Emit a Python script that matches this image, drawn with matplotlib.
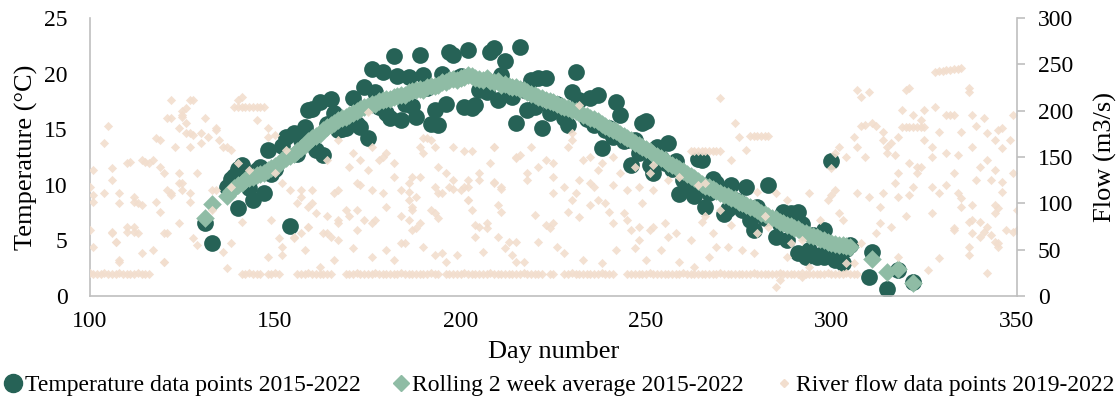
import matplotlib

matplotlib.use("Agg")
import matplotlib.pyplot as plt  # noqa: E402
from matplotlib.lines import Line2D  # noqa: E402

# temperature data points 2015-2022 (day, degC)
temp_day = [131, 133, 137, 138, 139, 140, 140, 141, 142, 143, 144, 145, 146, 147, 148, 149, 150,
            152, 153, 154, 155, 156, 157, 158, 159, 160, 161, 162, 163, 164, 165, 166, 167, 168, 169,
            170, 171, 172, 173, 174, 175, 176, 177, 178, 179, 180, 181, 182, 183, 184, 185, 186, 187,
            188, 189, 190, 191, 192, 193, 194, 195, 196, 197, 198, 199, 200, 201, 202, 203, 204, 205,
            206, 207, 208, 209, 210, 211, 212, 213, 214, 215, 216, 217, 218, 219, 220, 221, 222, 223,
            224, 226, 228, 229, 230, 231, 232, 234, 235, 236, 237, 238, 239, 240, 241, 242, 243, 244,
            245, 246, 247, 248, 249, 250, 251, 252, 253, 254, 255, 256, 257, 258, 259, 260, 261, 262,
            263, 264, 265, 266, 267, 268, 269, 270, 271, 272, 273, 274, 275, 276, 277, 278, 279, 280,
            281, 282, 283, 285, 286, 287, 288, 289, 291, 292, 291, 293, 294, 295, 296, 297, 298, 298,
            299, 300, 301, 302, 303, 304, 305, 310, 311, 315, 318, 322]
temp_c = [6.6, 4.8, 9.8, 10.5, 10.8, 7.9, 11.4, 11.8, 11.0, 9.7, 8.6, 11.3, 11.6, 9.3, 13.1, 11.0, 11.4,
          13.5, 14.3, 6.3, 14.7, 12.8, 14.0, 15.2, 16.7, 16.8, 13.1, 17.4, 12.7, 15.5, 17.7, 16.5, 14.9, 15.0, 15.1,
          15.8, 17.8, 15.5, 15.2, 18.8, 14.2, 20.4, 18.3, 17.0, 20.1, 16.5, 16.0, 21.6, 19.8, 15.8, 17.3, 19.7, 17.1,
          16.1, 21.7, 19.9, 18.7, 15.5, 16.7, 15.4, 20.0, 17.3, 21.9, 21.7, 19.6, 19.8, 17.0, 22.1, 16.9, 17.2, 18.5,
          19.0, 18.3, 21.9, 22.3, 17.6, 19.9, 21.1, 18.5, 17.9, 15.6, 22.4, 18.5, 16.7, 19.4, 17.0, 19.6, 15.1, 19.6,
          16.5, 17.3, 16.0, 15.4, 18.3, 20.1, 17.6, 15.9, 17.8, 15.4, 18.1, 13.3, 14.9, 15.1, 14.3, 17.4, 16.3, 13.9,
          14.0, 11.8, 14.0, 12.9, 15.6, 15.7, 11.8, 11.1, 13.4, 12.4, 12.0, 13.8, 11.4, 12.1, 9.2, 10.4, 10.8, 9.5,
          9.0, 12.3, 12.2, 8.0, 9.3, 10.5, 10.2, 9.5, 7.4, 7.8, 10.0, 8.6, 8.5, 7.7, 9.8, 6.8, 5.9, 8.0,
          7.4, 7.0, 10.0, 5.3, 6.5, 7.6, 5.0, 7.5, 7.6, 6.5, 3.9, 3.5, 4.1, 5.5, 3.5, 3.7, 5.9, 3.5,
          4.0, 12.1, 3.2, 4.0, 3.0, 4.2, 4.6, 1.7, 4.0, 0.6, 2.3, 1.3]

# rolling 2 week average 2015-2022
roll_day = [131, 133, 137, 138, 139, 140, 141, 142, 143, 144, 145, 146, 147, 148, 149, 150, 151, 152,
            153, 154, 155, 156, 157, 158, 159, 160, 161, 162, 163, 164, 165, 166, 167, 168, 169, 170,
            171, 172, 173, 174, 175, 176, 177, 178, 179, 180, 181, 182, 183, 184, 185, 186, 187, 188,
            189, 190, 191, 192, 193, 194, 195, 196, 197, 198, 199, 200, 201, 202, 203, 204, 205, 206,
            207, 208, 209, 210, 211, 212, 213, 214, 215, 216, 217, 218, 219, 220, 221, 222, 223, 224,
            225, 226, 227, 228, 229, 230, 231, 232, 233, 234, 235, 236, 237, 238, 239, 240, 241, 242,
            243, 244, 245, 246, 247, 248, 249, 250, 251, 252, 253, 254, 255, 256, 257, 258, 259, 260,
            261, 262, 263, 264, 265, 266, 267, 268, 269, 270, 271, 272, 273, 274, 275, 276, 277, 278,
            279, 280, 281, 282, 283, 284, 285, 286, 287, 288, 289, 290, 291, 292, 293, 294, 295, 296,
            297, 298, 299, 300, 301, 302, 303, 304, 305, 311, 315, 318, 322]
roll_c = [7.0, 8.3, 9.0, 9.4, 9.7, 10.0, 10.2, 10.4, 10.6, 10.7, 10.9, 11.0, 11.1, 11.3, 11.5, 11.7, 11.9, 12.2,
          12.4, 12.6, 12.8, 13.0, 13.3, 13.6, 13.9, 14.2, 14.4, 14.6, 14.9, 15.2, 15.4, 15.6, 15.8, 16.0, 16.1, 16.3,
          16.5, 16.6, 16.8, 17.0, 17.1, 17.3, 17.3, 17.5, 17.6, 17.7, 17.7, 17.9, 18.0, 18.1, 18.1, 18.3, 18.4, 18.5,
          18.6, 18.5, 18.8, 18.9, 18.9, 19.0, 19.2, 19.2, 19.4, 19.5, 19.4, 19.6, 19.7, 19.9, 19.8, 19.6, 19.5, 19.4,
          19.6, 19.3, 19.2, 19.3, 19.0, 19.1, 18.9, 18.8, 18.8, 18.6, 18.5, 18.3, 18.2, 18.1, 17.9, 17.8, 17.6, 17.5,
          17.4, 17.3, 17.1, 17.0, 16.9, 16.7, 16.6, 16.5, 16.3, 16.2, 16.0, 15.9, 15.7, 15.5, 15.3, 15.1, 14.9, 14.8,
          14.6, 14.4, 14.2, 14.0, 13.8, 13.6, 13.4, 13.2, 13.0, 12.8, 12.6, 12.4, 12.2, 12.0, 11.8, 11.6, 11.4, 11.2,
          11.0, 10.8, 10.6, 10.3, 10.1, 9.9, 9.8, 9.6, 9.4, 9.3, 9.1, 9.0, 8.8, 8.7, 8.5, 8.4, 8.2, 8.0,
          7.9, 7.7, 7.5, 7.4, 7.2, 7.0, 6.9, 6.7, 6.6, 6.4, 6.3, 6.1, 6.0, 5.8, 5.7, 5.5, 5.4, 5.3,
          5.1, 5.0, 4.9, 4.8, 4.7, 4.6, 4.6, 4.5, 4.4, 3.3, 2.2, 2.4, 1.2]

# river flow data points 2019-2022 (day, m3/s): scattered readings
flow_day = [100, 101, 101, 100, 101, 106, 107, 110, 112, 113, 108, 114, 117, 120, 121, 112, 113, 119, 118, 122, 125, 127,
            105, 104, 110, 115, 118, 119, 122, 127, 125, 122, 125, 126, 126, 128, 123, 127, 101, 106, 111, 117, 120,
            128, 126, 125, 121, 124, 127, 130, 104, 106, 114, 116, 119, 124, 129, 124, 108, 108, 112, 114, 121, 122,
            125, 127, 120, 112, 110, 106, 107, 108, 120, 124, 128, 129,
            132, 134, 130, 135, 136, 138, 139, 140, 141, 140, 141, 142, 143, 144, 145, 146, 147, 145, 148, 148, 150,
            153, 133, 134, 138, 131, 134, 137, 140, 143, 150, 152, 154, 157, 156, 159, 138, 133, 136, 137, 141, 149,
            151, 155, 157, 152, 148, 158, 155, 152, 159,
            164, 167, 171, 173, 175, 176, 179, 182, 187, 184, 160, 161, 164, 167, 169, 166, 170, 172, 175, 176, 178,
            180, 182, 186, 187, 189, 191, 194, 196, 198, 201, 202, 203, 205, 207, 209, 209, 193, 189, 184, 180, 176,
            172, 167, 164, 159, 190, 192, 190, 193, 198, 201, 203, 209, 189, 194, 197, 202, 205, 208, 211, 163, 165,
            162, 166, 167, 170, 172, 174, 177, 176, 180, 182, 184, 187, 171, 160, 157, 167, 173, 179, 186, 187, 186,
            188, 186, 185, 188, 190, 192, 194, 195, 198, 202, 202, 204, 207, 210, 211, 204, 199, 195, 193, 196, 206,
            210, 193, 200, 205, 209, 211,
            219, 216, 215, 223, 225, 229, 230, 230, 232, 233, 235, 237, 238, 241, 243, 247, 251, 252, 259, 256, 215,
            218, 221, 225, 228, 232, 235, 241, 245, 248, 252, 213, 212, 214, 215, 217, 215, 220, 221, 223, 224, 225,
            226, 228, 229, 230, 231, 232, 233, 235, 237, 239, 240, 241, 238, 242, 244, 245, 246, 248, 247, 248, 249,
            251, 252, 255, 250, 254, 256, 258, 259, 262, 263, 218, 225, 236,
            262, 263, 264, 265, 266, 267, 268, 269, 270, 264, 270, 274, 275, 278, 279, 280, 281, 282, 283, 277, 273,
            266, 280, 285, 288, 265, 267, 268, 269, 266, 270, 272, 273, 276, 279, 280, 282, 283, 288, 289, 292, 285,
            286, 292, 294,
            300, 301, 302, 304, 307, 308, 310, 306, 307, 309, 308, 309, 311, 312, 314, 314, 315, 316, 315, 317, 318,
            319, 320, 321, 319, 320, 321, 322, 323, 324, 325, 322, 324, 321, 323, 324, 325, 328, 329, 328, 329, 330,
            331, 332, 333, 334, 335, 331, 332, 333, 331, 334, 335, 337, 337, 338, 339, 341, 342, 344, 345, 346, 346,
            348, 349, 349, 338, 342, 344, 340, 339, 343, 346, 333, 331, 334, 325, 327, 327, 327, 323, 322, 318, 317,
            314, 310, 300, 294, 335, 338, 344, 345, 340, 337, 333, 338, 341, 343, 344, 345, 337, 337, 349, 350, 342,
            346, 350, 299, 301, 307, 302, 297, 303, 313, 313, 316, 318, 321, 320, 327, 329, 333, 335, 338, 340, 342,
            345, 326, 329, 312, 308, 306, 304, 318, 347, 344]
flow_m3s = [118, 109, 101, 71, 53, 69, 58, 69, 75, 68, 39, 46, 50, 37, 68, 107, 100, 91, 101, 111, 114, 101,
            183, 165, 143, 145, 170, 168, 211, 211, 200, 192, 193, 187, 176, 174, 161, 161, 136, 138, 145, 147, 133,
            211, 203, 195, 192, 181, 176, 176, 111, 125, 147, 143, 139, 133, 133, 122, 111, 100, 101, 98, 114, 109,
            122, 111, 68, 69, 75, 68, 58, 37, 37, 79, 63, 55,
            172, 181, 165, 168, 161, 158, 204, 211, 215, 204, 204, 204, 204, 204, 204, 204, 204, 190, 181, 172, 174,
            158, 114, 114, 118, 192, 179, 161, 143, 136, 133, 122, 114, 107, 100, 96, 57, 93, 47, 30, 80, 82,
            63, 63, 68, 44, 42, 50, 64, 53, 75,
            147, 168, 154, 147, 199, 161, 150, 143, 128, 114, 114, 90, 86, 82, 93, 111, 139, 122, 136, 114, 147,
            154, 128, 104, 96, 161, 170, 139, 133, 125, 118, 104, 93, 74, 79, 122, 161, 90, 79, 86, 96, 79,
            71, 60, 68, 75, 170, 168, 154, 161, 161, 156, 156, 161, 128, 111, 118, 125, 133, 143, 118, 68, 64,
            31, 39, 79, 86, 93, 82, 82, 42, 50, 39, 57, 71, 52, 100, 114, 114, 120, 111, 122, 93, 112,
            107, 82, 57, 73, 53, 93, 84, 111, 116, 118, 104, 77, 73, 98, 91, 64, 44, 46, 44, 37, 48,
            64, 118, 114, 125, 123, 116,
            161, 152, 149, 147, 143, 161, 168, 176, 206, 147, 150, 136, 143, 150, 133, 139, 133, 141, 128, 125, 150,
            133, 139, 128, 118, 125, 122, 120, 114, 118, 114, 58, 52, 44, 37, 37, 58, 87, 58, 77, 73, 79,
            53, 46, 91, 104, 111, 85, 39, 98, 104, 100, 91, 79, 36, 50, 90, 82, 71, 75, 52, 60, 100,
            71, 75, 79, 39, 50, 64, 68, 37, 60, 31, 125, 111, 118,
            157, 157, 157, 157, 157, 157, 157, 157, 157, 120, 214, 187, 172, 173, 173, 173, 173, 173, 173, 158, 147,
            122, 112, 111, 104, 80, 42, 68, 53, 86, 93, 53, 77, 50, 46, 68, 86, 75, 42, 57, 60, 10,
            17, 21, 31,
            138, 154, 161, 150, 222, 215, 220, 172, 161, 150, 183, 185, 187, 183, 177, 168, 161, 165, 154, 152, 172,
            201, 222, 224, 182, 182, 182, 182, 182, 182, 182, 195, 190, 143, 139, 139, 201, 204, 177, 242, 243, 243,
            244, 244, 245, 245, 246, 195, 195, 195, 154, 152, 177, 224, 220, 195, 183, 192, 176, 168, 179, 160, 181,
            168, 133, 195, 161, 147, 136, 139, 125, 125, 123, 133, 120, 111, 168, 161, 150, 118, 133, 118, 133, 122,
            111, 107, 109, 111, 106, 98, 98, 95, 80, 80, 73, 68, 69, 66, 58, 53, 53, 44, 69, 71, 25,
            112, 93, 104, 114, 111, 90, 82, 82, 96, 79, 75, 107, 109, 86, 90, 111, 71, 96, 82, 64, 75,
            57, 28, 41, 68, 57, 36, 36, 42, 71, 90]

# river flow low-flow baseline readings (day, m3/s)
base_day = [100, 101, 102, 103, 104, 105, 106, 107, 108, 109, 110, 111, 112, 113, 114, 115, 116,
            141, 142, 143, 144, 145, 146, 148, 149, 150, 151, 156, 157, 158, 159, 160, 161, 162, 163, 164, 165,
            169, 170, 171, 172, 173, 174, 175, 176, 177, 178, 179, 180, 181, 182, 183, 184, 185, 186, 187, 188,
            189, 190, 191, 192, 193, 194, 196, 197, 198, 199, 200, 201, 202, 203, 204, 205, 206, 207, 208, 209,
            210, 211, 212, 213, 214, 215, 216, 217, 218, 219, 220, 221, 222, 224, 225, 228, 229, 230, 231, 232,
            233, 234, 235, 236, 237, 238, 239, 240, 241, 245, 246, 247, 248, 249, 250, 251, 252, 253, 254, 255,
            256, 257, 258, 259, 260, 261, 262, 263, 264, 265, 266, 267, 268, 269, 270, 271, 272, 273, 274, 275,
            276, 277, 278, 279, 280, 281, 282, 283, 284, 285, 286, 287, 288, 289, 290, 291, 292, 293, 294, 295,
            296, 297, 298, 299, 300, 301, 302, 303, 304, 305, 306, 307]
base_m3s = [25, 24, 24, 24, 25, 24, 24, 24, 25, 24, 24, 24, 24, 25, 24, 24, 24,
            24, 24, 25, 24, 24, 24, 24, 24, 25, 24, 24, 24, 24, 25, 24, 24, 24, 24, 24, 24,
            24, 24, 24, 25, 24, 24, 24, 24, 25, 24, 24, 24, 24, 24, 24, 25, 24, 24, 24, 24,
            24, 24, 24, 25, 24, 24, 24, 24, 24, 24, 24, 25, 24, 24, 24, 24, 24, 24, 25, 24,
            24, 24, 24, 24, 24, 24, 24, 25, 24, 24, 24, 24, 24, 24, 24, 24, 24, 25, 24, 24,
            24, 24, 24, 24, 24, 25, 24, 24, 24, 24, 24, 24, 24, 24, 24, 25, 24, 24, 24, 24,
            24, 24, 24, 24, 25, 24, 24, 24, 24, 24, 24, 24, 24, 24, 25, 24, 24, 24, 24, 24,
            24, 24, 24, 25, 24, 24, 24, 24, 24, 24, 25, 24, 24, 24, 24, 24, 25, 24, 24, 24,
            24, 24, 24, 25, 24, 24, 24, 24, 25, 24, 24, 24]

TEMP_COL = "#266256"
ROLL_COL = "#8fbca5"
FLOW_COL = "#f2dece"
GRID_COL = "#bfbfbf"

plt.rcParams["font.family"] = ["Liberation Serif", "DejaVu Serif"]
plt.rcParams["font.size"] = 17

fig = plt.figure(figsize=(11.2, 3.99), dpi=100)
ax = fig.add_axes([0.080, 0.258, 0.828, 0.697])
ax2 = ax.twinx()

ax.scatter(temp_day, temp_c, s=145, marker="o", color=TEMP_COL, linewidths=0, zorder=2)
ax.scatter(roll_day, roll_c, s=90, marker="D", color=ROLL_COL, linewidths=0, zorder=3)
ax2.scatter(flow_day, flow_m3s, s=22, marker="D", color=FLOW_COL, linewidths=0, alpha=0.9)
ax2.scatter(base_day, base_m3s, s=22, marker="D", color=FLOW_COL, linewidths=0, alpha=0.9)

ax.set_xlim(100, 350)
ax.set_ylim(0, 25)
ax2.set_ylim(0, 300)
ax.set_xticks([100, 150, 200, 250, 300, 350])
ax.set_yticks([0, 5, 10, 15, 20, 25])
ax2.set_yticks([0, 50, 100, 150, 200, 250, 300])

for a in (ax, ax2):
    a.spines["top"].set_visible(False)
    for side in ("left", "right", "bottom"):
        a.spines[side].set_color(GRID_COL)
        a.spines[side].set_linewidth(1.2)
ax.spines["right"].set_visible(False)
ax2.spines["left"].set_visible(False)
ax2.spines["bottom"].set_visible(False)

ax.tick_params(axis="x", length=0, pad=11)
ax.tick_params(axis="y", length=0, pad=16)
ax2.tick_params(axis="y", length=6, width=1.2, color=GRID_COL, pad=9)

ax.set_xlabel("Day number", fontsize=19, labelpad=6)
ax.set_ylabel("Temperature (°C)", fontsize=19)
ax.yaxis.set_label_coords(-0.056, 0.5)
ax2.set_ylabel("Flow (m3/s)", fontsize=19)
ax2.yaxis.set_label_coords(1.083, 0.5)

handles = [
    Line2D([], [], linestyle="none", marker="o", markersize=13, color=TEMP_COL),
    Line2D([], [], linestyle="none", marker="D", markersize=8, color=ROLL_COL),
    Line2D([], [], linestyle="none", marker="D", markersize=4, color=FLOW_COL),
]
labels = ["Temperature data points 2015-2022", "Rolling 2 week average 2015-2022",
          "River flow data points 2019-2022"]
fig.legend(handles, labels, loc="lower center", bbox_to_anchor=(0.5, -0.028), ncol=3, frameon=False,
           handlelength=0.6, handletextpad=0.2, columnspacing=1.4, borderaxespad=0.2)

fig.savefig("out.png", dpi=100)
